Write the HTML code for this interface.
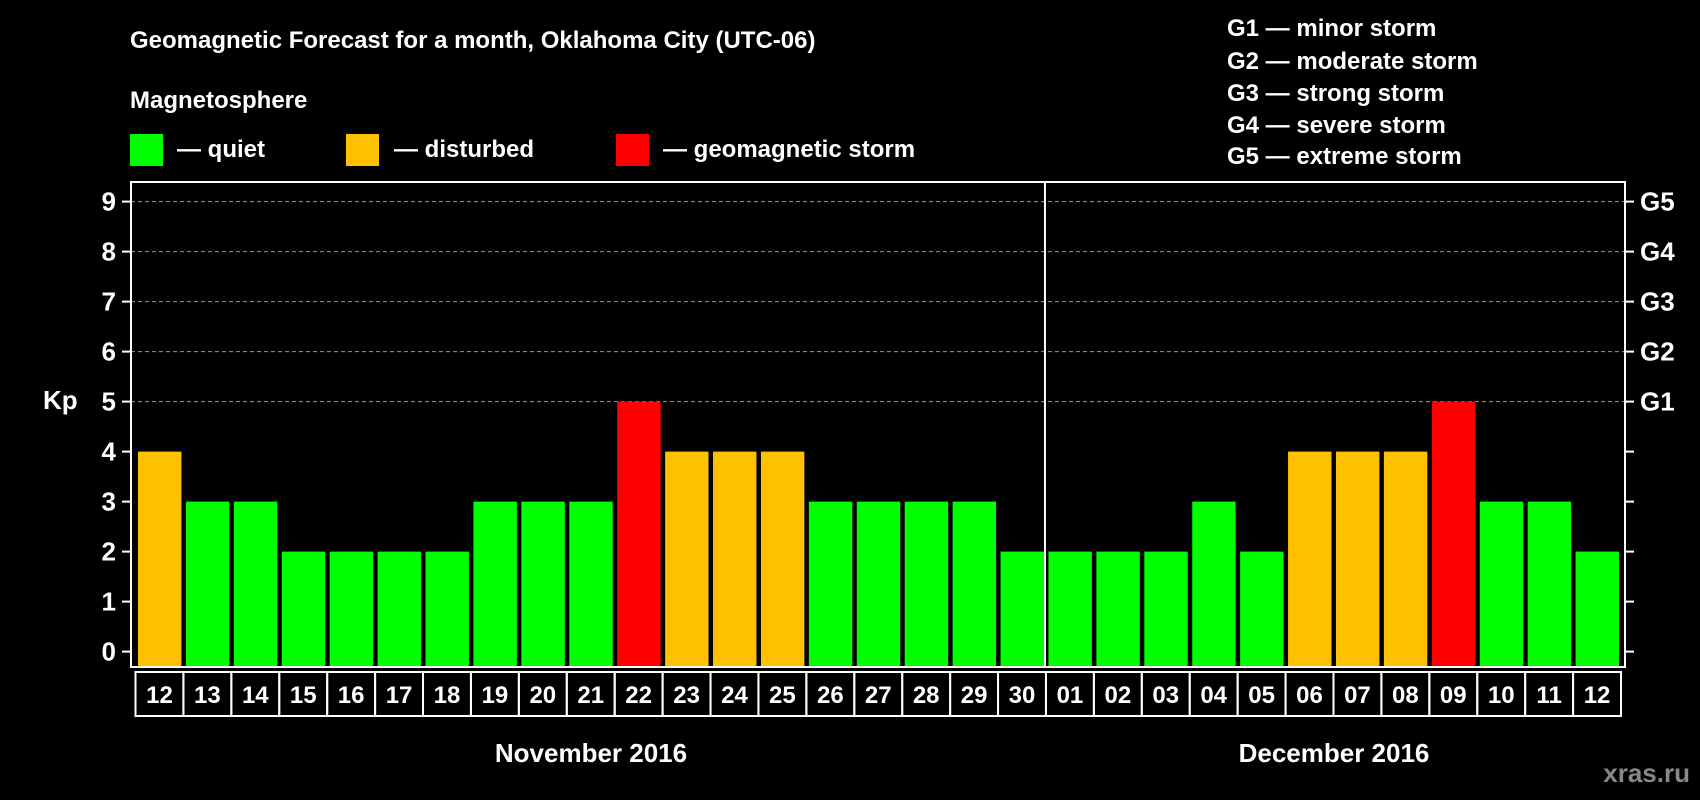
<!DOCTYPE html>
<html><head><meta charset="utf-8"><style>
html,body{margin:0;padding:0;background:#000;}
svg{display:block;font-family:"Liberation Sans",Arial,sans-serif;font-weight:bold;}
</style></head><body>
<svg id="chart" width="1700" height="800" viewBox="0 0 1700 800">
<rect width="1700" height="800" fill="#000"/>
<text x="130" y="48" fill="#fff" font-size="24">Geomagnetic Forecast for a month, Oklahoma City (UTC-06)</text>
<text x="130" y="108" fill="#fff" font-size="24">Magnetosphere</text>
<g><rect x="130" y="134" width="33" height="32" fill="#00ff00"/><text x="177" y="157" fill="#fff" font-size="24">— quiet</text></g>
<g><rect x="346" y="134" width="33" height="32" fill="#ffc000"/><text x="394" y="157" fill="#fff" font-size="24">— disturbed</text></g>
<g><rect x="616" y="134" width="33" height="32" fill="#ff0000"/><text x="663" y="157" fill="#fff" font-size="24">— geomagnetic storm</text></g>
<g fill="#fff" font-size="24">
<text x="1227" y="36">G1 — minor storm</text>
<text x="1227" y="69">G2 — moderate storm</text>
<text x="1227" y="101">G3 — strong storm</text>
<text x="1227" y="133">G4 — severe storm</text>
<text x="1227" y="164">G5 — extreme storm</text>
</g>
<text x="43" y="409" fill="#fff" font-size="26">Kp</text>
<g id="grid"></g><g id="bars"></g><g id="axes"></g>
<text x="591" y="762" fill="#fff" font-size="26" text-anchor="middle">November 2016</text>
<text x="1334" y="762" fill="#fff" font-size="26" text-anchor="middle">December 2016</text>
<text x="1690" y="782" fill="#888" font-size="26" text-anchor="end">xras.ru</text>
</svg>
<script>
const days = ["12","13","14","15","16","17","18","19","20","21","22","23","24","25","26","27","28","29","30","01","02","03","04","05","06","07","08","09","10","11","12"];
const kpValues = [4,3,3,2,2,2,2,3,3,3,5,4,4,4,3,3,3,3,2,2,2,2,3,2,4,4,4,5,3,3,2];
const yTicks = [0,1,2,3,4,5,6,7,8,9];
const gLabels = ["","","","","","G1","G2","G3","G4","G5"];
const NS="http://www.w3.org/2000/svg";
const L=131,R=1625,T=182,B=667,y0=651.6,unit=50;
const n=days.length, pitch=(1621-135.5)/n;
const yS=v=>y0-v*unit;
const xS=i=>135.5+i*pitch;
function mk(tag,attrs,parent){const e=document.createElementNS(NS,tag);for(const k in attrs)e.setAttribute(k,attrs[k]);parent.appendChild(e);return e;}
const grid=document.getElementById('grid'),bars=document.getElementById('bars'),axes=document.getElementById('axes');
yTicks.forEach((t,i)=>{
  const y=yS(t);
  if(t>=5){const g=mk('line',{x1:L,x2:R,y1:y,y2:y,stroke:'#999','stroke-dasharray':'4,3','stroke-width':1},grid);
  
  }
  mk('line',{x1:L-9,x2:L,y1:y,y2:y,stroke:'#fff','stroke-width':2},axes);
  mk('line',{x1:R,x2:R+9,y1:y,y2:y,stroke:'#fff','stroke-width':2},axes);
  const tl=mk('text',{x:116,y:y+9,fill:'#fff','font-size':26,'text-anchor':'end'},axes);tl.textContent=t;
  
  
  if(gLabels[i]){const gl=mk('text',{x:1640,y:y+9,fill:'#fff','font-size':26},axes);gl.textContent=gLabels[i];
  
  }
});
kpValues.forEach((v,i)=>{
  const c=v>=5?'#ff0000':(v>=4?'#ffc000':'#00ff00');
  const b=mk('rect',{x:xS(i)+2.5,y:yS(v),width:pitch-4.5,height:B-yS(v),fill:c},bars);
  
  
  const cell=mk('rect',{x:xS(i),y:672,width:pitch,height:44,fill:'none',stroke:'#fff','stroke-width':2},axes);
  
  
  const lt=mk('text',{x:xS(i)+pitch/2,y:703,fill:'#fff','font-size':24,'text-anchor':'middle'},axes);lt.textContent=days[i];
  
  
});
const box=mk('rect',{x:L,y:T,width:R-L,height:B-T,fill:'none',stroke:'#fff','stroke-width':2},axes);


const dx=xS(19)-1;
const div=mk('line',{x1:dx,x2:dx,y1:T,y2:B,stroke:'#fff','stroke-width':2},axes);


</script>
</body></html>
